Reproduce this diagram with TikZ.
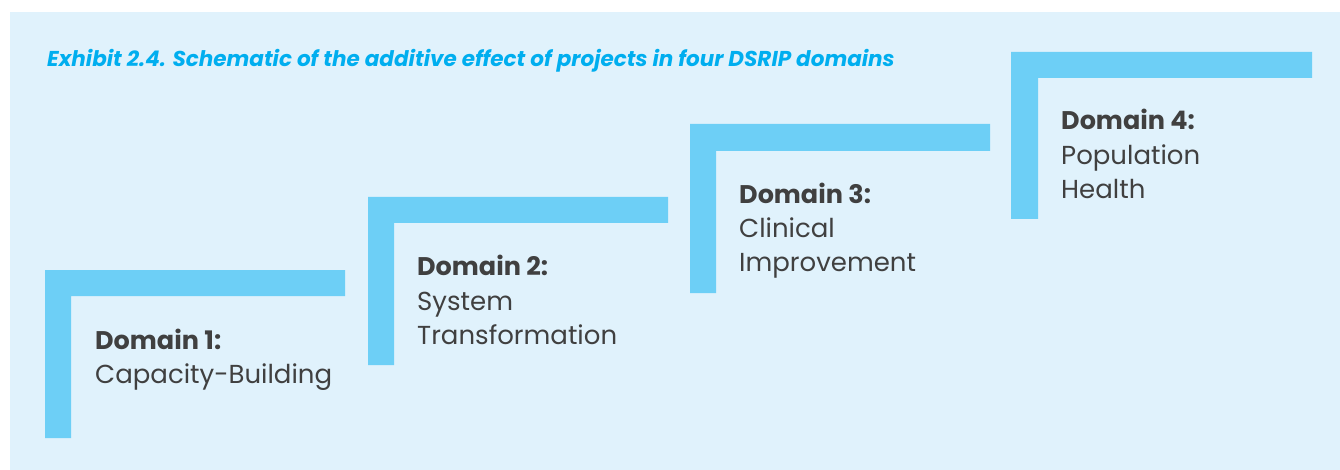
\documentclass[tikz,border=0pt]{standalone}
\usepackage{fontspec}
\setmainfont{Poppins}
\definecolor{bgblue}{HTML}{E0F2FC}
\definecolor{barblue}{HTML}{6DCFF6}
\definecolor{titleblue}{HTML}{00AEEF}
\definecolor{txtgray}{HTML}{404040}
\begin{document}
\begin{tikzpicture}[x=1pt,y=-1pt,
  bar/.style={fill=barblue,draw=none},
  head/.style={anchor=base west,inner sep=0pt,text=txtgray,font=\fontsize{25.5}{30}\selectfont\bfseries},
  body/.style={anchor=base west,inner sep=0pt,text=txtgray,font=\fontsize{26}{30}\selectfont},
  ttl/.style={anchor=base west,inner sep=0pt,text=titleblue,font=\fontsize{21.5}{25}\selectfont\bfseries\itshape}]
\useasboundingbox (0,0) rectangle (1340,470);
\fill[white] (0,0) rectangle (1340,470);
\fill[bgblue] (10,12) rectangle (1340,470);
\node[ttl] (title) at (47,67) {Exhibit 2.4. Schematic of the additive effect of projects in four DSRIP domains};
% brackets
\fill[bar] (45,438) -- (45,270) -- (345,270) -- (345,296) -- (71,296) -- (71,438) -- cycle;
\fill[bar] (368,365) -- (368,197) -- (668,197) -- (668,223) -- (394,223) -- (394,365) -- cycle;
\fill[bar] (690,293) -- (690,124) -- (990,124) -- (990,151) -- (716,151) -- (716,293) -- cycle;
\fill[bar] (1011,219) -- (1011,52) -- (1312,52) -- (1312,78) -- (1038,78) -- (1038,219) -- cycle;
% labels
\node[head] (h1) at (95,349) {Domain 1:};
\node[body] (b1) at (95,383) {Capacity-Building};
\node[head] (h2) at (417,276) {Domain 2:};
\node[body] (b2a) at (417,310) {System};
\node[body] (b2b) at (417,344) {Transformation};
\node[head] (h3) at (739,204) {Domain 3:};
\node[body] (b3a) at (739,238) {Clinical};
\node[body] (b3b) at (739,272) {Improvement};
\node[head] (h4) at (1061,130) {Domain 4:};
\node[body] (b4a) at (1061,165) {Population};
\node[body] (b4b) at (1061,199) {Health};
\end{tikzpicture}
\end{document}
